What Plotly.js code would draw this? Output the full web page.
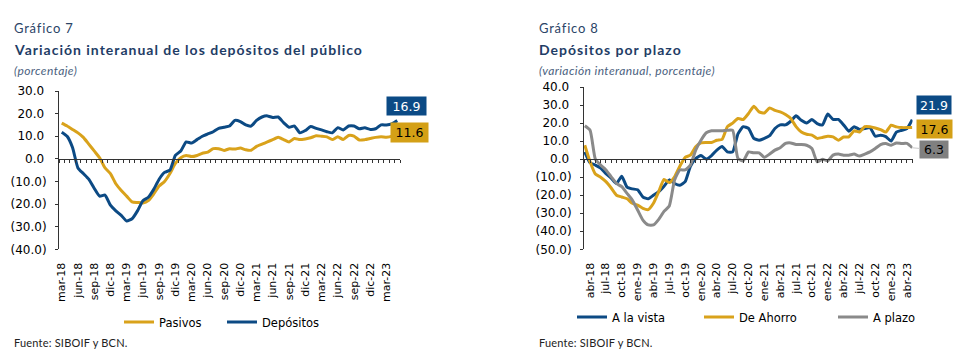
<!DOCTYPE html>
<html>
<head>
<meta charset="utf-8">
<script src="https://cdn.plot.ly/plotly-3.0.1.min.js"></script>
<style>html,body{margin:0;padding:0;background:#fff;}#chart{width:971px;height:363px;}</style>
</head>
<body>
<div id="chart"></div>
<script>
// Monthly categories (mar-18 .. may-23)
const months = [
  'mar-18','abr-18','may-18','jun-18','jul-18','ago-18','sep-18','oct-18','nov-18','dic-18',
  'ene-19','feb-19','mar-19','abr-19','may-19','jun-19','jul-19','ago-19','sep-19','oct-19','nov-19','dic-19',
  'ene-20','feb-20','mar-20','abr-20','may-20','jun-20','jul-20','ago-20','sep-20','oct-20','nov-20','dic-20',
  'ene-21','feb-21','mar-21','abr-21','may-21','jun-21','jul-21','ago-21','sep-21','oct-21','nov-21','dic-21',
  'ene-22','feb-22','mar-22','abr-22','may-22','jun-22','jul-22','ago-22','sep-22','oct-22','nov-22','dic-22',
  'ene-23','feb-23','mar-23','abr-23','may-23'
];

// Tick labels
const ticks7 = ['mar-18','jun-18','sep-18','dic-18','mar-19','jun-19','sep-19','dic-19','mar-20','jun-20','sep-20','dic-20',
  'mar-21','jun-21','sep-21','dic-21','mar-22','jun-22','sep-22','dic-22','mar-23'];
const ticks8 = ['abr-18','jul-18','oct-18','ene-19','abr-19','jul-19','oct-19','ene-20','abr-20','jul-20','oct-20','ene-21',
  'abr-21','jul-21','oct-21','ene-22','abr-22','jul-22','oct-22','ene-23','abr-23'];

// Gráfico 7
const pasivos = [15.8,14.5,13,11.5,9.5,6.5,3.5,0.5,-4,-6.5,-11,-14,-16.5,-19,-19.3,-19.5,-18.5,-15.5,-12,-10,-6.5,-2,0.5,1.5,1,1.5,2.5,3,4.5,4.5,3.7,4.5,4.3,4.8,4,3.8,5.5,6.5,7.5,8.5,9.5,8.5,7.5,9,8.5,8.8,9.3,10.2,10,9.7,8.5,9.8,8.5,10.3,10,8.3,8.5,9,9.5,9.8,9.5,10,11.6];
const depositos = [11.8,10,5,-4,-6.5,-9,-13,-16.5,-16,-20.5,-23,-25,-27.5,-26.5,-23,-18.5,-17,-13.5,-9,-6,-5,1.5,3.5,7.5,7,8.5,10,11,12,13.5,14,14.5,17,16.5,15,14.5,17,18.5,19,18.3,18.5,16,14,14.5,11.5,12.5,14.3,13.5,12.8,12,11.5,13.8,12.8,14.5,14.5,13.3,13.7,13,13.3,15,15,15.5,16.9];

// Gráfico 8
const vista = [4,-2,-3.3,-5,-8,-10.5,-13.5,-9.5,-15.5,-16.5,-17,-21,-22,-20,-18,-15,-11.5,-13.5,-14.5,-12.5,-4,0.3,2,0,2,5,7,4,4,14,18,17,11.5,10.5,11.5,13,17,19,19,21,24,21.5,20,22,19.7,19,25,22,22,19,15.5,18,16.5,17,17.5,12.7,13.3,12.5,10,15,16,17,21.9];
const ahorro = [7.7,-1.5,-8.3,-10,-12.5,-16,-20,-21,-22,-24.5,-25.5,-27.3,-28,-24.5,-18,-11.3,-13,-9.8,-3.9,1,2.2,6.8,9,9.2,9.2,10.5,11,18,20,22.5,22,25.3,29.3,26.2,25.6,28.4,27,26.2,24.7,22.5,18,15,13.8,13.3,11.5,12,12.7,12.3,10.5,12.3,12.3,15.7,15,18,18,17.3,16.4,15,18.8,17.9,17.5,17.5,17.6];
const plazo = [18.5,16,0,-3.3,-6,-9.8,-13.5,-15.3,-19,-22.7,-28.2,-33.8,-36.5,-36.5,-33.4,-29,-26,-11.6,-6,-6,-3.3,5,10.5,14.6,15.7,15.7,15.7,16,16,0.4,-1,4,3.5,3.5,1,2.8,5,6.3,8.7,9,8.1,8.1,7.7,5.9,-1.5,0,-1,2.2,2.8,2.2,2.2,2.8,1.7,2.8,4,5.9,8.1,8.7,7.7,9,8.7,8.7,6.3];

const yvals7 = [30,20,10,0,-10,-20,-30,-40];
const yvals8 = [40,30,20,10,0,-10,-20,-30,-40,-50];

const BLUE = '#0c4a84', GOLD = '#d9a21b', GRAY = '#8a8a8a';
const TXT = '#000';
const FONT = 'DejaVu Sans, Verdana, sans-serif';
const HFONT = 'Lato, Open Sans, sans-serif';

function fmt(v){ return v < 0 ? '(' + Math.abs(v).toFixed(1) + ')' : v.toFixed(1) + '\u2009'; }

const W = 971, H = 363;
const px = x => x / W, py = y => (H - y) / H;

const lineOpts = (c) => ({color: c, width: 3, shape: 'spline', smoothing: 0.5});

const traces = [
  {x: months, y: pasivos, name: 'Pasivos', type: 'scatter', mode: 'lines', line: lineOpts(GOLD), xaxis: 'x', yaxis: 'y', legend: 'legend', hoverinfo: 'skip'},
  {x: months, y: depositos, name: 'Depósitos', type: 'scatter', mode: 'lines', line: lineOpts(BLUE), xaxis: 'x', yaxis: 'y', legend: 'legend2', hoverinfo: 'skip'},
  {x: months, y: vista, name: 'A la vista', type: 'scatter', mode: 'lines', line: lineOpts(BLUE), xaxis: 'x2', yaxis: 'y2', legend: 'legend3', hoverinfo: 'skip'},
  {x: months, y: ahorro, name: 'De Ahorro', type: 'scatter', mode: 'lines', line: lineOpts(GOLD), xaxis: 'x2', yaxis: 'y2', legend: 'legend4', hoverinfo: 'skip'},
  {x: months, y: plazo, name: 'A plazo', type: 'scatter', mode: 'lines', line: lineOpts(GRAY), xaxis: 'x2', yaxis: 'y2', legend: 'legend5', hoverinfo: 'skip'},
  // invisible carriers so the zero-line axes (with monthly ticks) get drawn
  {x: months, y: depositos, type: 'scatter', mode: 'lines', line: {width: 0, color: 'rgba(0,0,0,0)'}, opacity: 0, xaxis: 'x3', yaxis: 'y', showlegend: false, hoverinfo: 'skip'},
  {x: months, y: vista, type: 'scatter', mode: 'lines', line: {width: 0, color: 'rgba(0,0,0,0)'}, opacity: 0, xaxis: 'x4', yaxis: 'y2', showlegend: false, hoverinfo: 'skip'}
];

const dom1x = [px(59), px(400)], dom1y = [py(249.3), py(91)];
const dom2x = [px(584), px(912.5)], dom2y = [py(249.3), py(87)];
const r1 = [-0.5, 62.5], r2 = [-0.15, 62.05];
const zero1 = dom1y[0] + (40/70) * (dom1y[1] - dom1y[0]);
const zero2 = dom2y[0] + (50/90) * (dom2y[1] - dom2y[0]);

const bottomAxis = (dom, rng, tv, anchor) => ({
  domain: dom, range: rng, type: 'category', anchor: anchor,
  tickmode: 'array', tickvals: tv, ticktext: tv, tickangle: -90,
  ticks: 'outside', ticklen: 8, tickcolor: 'rgba(0,0,0,0)',
  showline: false, showgrid: false, zeroline: false,
  tickfont: {family: FONT, size: 11, color: TXT}, fixedrange: true
});
const zeroAxis = (dom, rng, over, pos, boundaries) => ({
  domain: dom, type: 'category', range: rng, overlaying: over, anchor: 'free', position: pos,
  tickmode: 'linear', tick0: 0, dtick: 1, tickson: boundaries ? 'boundaries' : 'labels',
  ticks: 'outside', ticklen: 3, tickwidth: 1, tickcolor: '#333',
  showline: true, linecolor: '#333', linewidth: 1, showticklabels: false, showgrid: false, zeroline: false, fixedrange: true
});
const leftAxis = (dom, rng, vals, anchor) => ({
  domain: dom, range: rng, anchor: anchor,
  tickmode: 'array', tickvals: vals, ticktext: vals.map(fmt), ticklabelstandoff: 6,
  ticks: 'outside', ticklen: 3, tickcolor: '#333', showline: true, linecolor: '#333', linewidth: 1,
  showgrid: false, zeroline: false, tickfont: {family: FONT, size: 12, color: TXT}, fixedrange: true
});

const legendAt = (xpix, ypix) => ({
  visible: true,
  x: px(xpix), y: py(ypix), xanchor: 'left', yanchor: 'middle', orientation: 'h',
  bgcolor: 'rgba(0,0,0,0)', borderwidth: 0, font: {family: FONT, size: 11.5, color: TXT},
  itemwidth: 30, tracegroupgap: 0
});

const sp = (t, ls) => '<span style="letter-spacing:' + ls + 'px">' + t + '</span>';
const hdr = (xpix, ypix, text, size, color) => ({
  xref: 'paper', yref: 'paper', x: px(xpix), y: py(ypix), xanchor: 'left', yanchor: 'middle',
  text: text, showarrow: false, font: {family: HFONT, size: size, color: color}
});

const n = months.length - 1;
const valBox = (xr, yr, yv, ax, ay, bg, fc, w, h, arrow) => ({
  xref: xr, yref: yr, x: months[n], y: yv, text: yv.toFixed(1),
  showarrow: true, arrowhead: 0, arrowwidth: arrow ? 1 : 0.1, arrowcolor: arrow ? '#c8c8c8' : 'rgba(0,0,0,0)',
  ax: ax, ay: ay, bgcolor: bg, width: w, height: h, borderpad: 0,
  font: {family: FONT, size: 12.5, color: fc}, standoff: 0
});

const layout = {
  width: W, height: H, margin: {l: 0, r: 0, t: 0, b: 0},
  paper_bgcolor: '#fff', plot_bgcolor: 'rgba(0,0,0,0)',
  showlegend: true,
  xaxis: bottomAxis(dom1x, r1, ticks7, 'y'),
  yaxis: leftAxis(dom1y, [-40, 30], yvals7, 'x'),
  xaxis2: bottomAxis(dom2x, r2, ticks8, 'y2'),
  yaxis2: leftAxis(dom2y, [-50, 40], yvals8, 'x2'),
  xaxis3: zeroAxis(dom1x, r1, 'x', zero1, true),
  xaxis4: zeroAxis(dom2x, r2, 'x2', zero2, false),
  legend: legendAt(119, 322),
  legend2: legendAt(222, 322),
  legend3: legendAt(572, 317),
  legend4: legendAt(699, 317),
  legend5: legendAt(833, 317),
  annotations: [
    hdr(12, 28, sp('Gráfico 7', 0.8), 13, '#2b4466'),
    hdr(12, 50, '<b>' + sp('Variación interanual de los depósitos del público', 1) + '</b>', 14, '#1f3d66'),
    hdr(12, 71, '<i>' + sp('(porcentaje)', 0.4) + '</i>', 12, '#4b5f80'),
    hdr(12, 342, sp('Fuente: SIBOIF y BCN.', 0.2), 11, '#222'),
    hdr(537, 28, sp('Gráfico 8', 0.8), 13, '#2b4466'),
    hdr(537, 50, '<b>' + sp('Depósitos por plazo', 1) + '</b>', 14, '#1f3d66'),
    hdr(537, 71, '<i>' + sp('(variación interanual, porcentaje)', 0.4) + '</i>', 12, '#4b5f80'),
    hdr(537, 342, sp('Fuente: SIBOIF y BCN.', 0.2), 11, '#222'),
    valBox('x', 'y', depositos[n], 9, -15, '#0b4a85', '#fff', 39, 18, false),
    valBox('x', 'y', pasivos[n], 12, 0, '#d4a016', '#000', 37, 19, false),
    valBox('x2', 'y2', vista[n], 22, -15, '#0b4a85', '#fff', 34, 18, false),
    valBox('x2', 'y2', ahorro[n], 22, 2, '#d4a016', '#000', 35, 18, false),
    valBox('x2', 'y2', plazo[n], 22, 2, '#808080', '#000', 28, 17, true)
  ]
};

Plotly.newPlot('chart', traces, layout, {staticPlot: true, displayModeBar: false});
</script>
</body>
</html>
